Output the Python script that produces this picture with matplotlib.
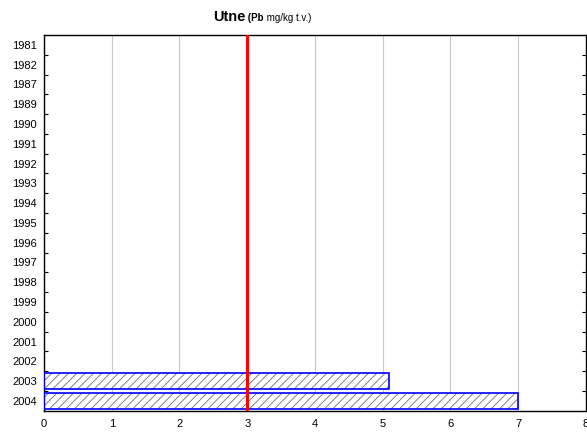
"""Horizontal bar chart: Pb concentration at Utne by year."""

import matplotlib

matplotlib.use("Agg")
import matplotlib.pyplot as plt
import numpy as np
from matplotlib.offsetbox import AnchoredOffsetbox, HPacker, TextArea

years = ["1981", "1982", "1987", "1989", "1990", "1991", "1992", "1993", "1994",
         "1995", "1996", "1997", "1998", "1999", "2000", "2001", "2002", "2003", "2004"]
values = [np.nan] * 17 + [5.1, 7.0]
limit_value = 3
x_ticks = [0, 1, 2, 3, 4, 5, 6, 7, 8]

plt.rcParams["font.family"] = ["Liberation Sans", "DejaVu Sans"]
plt.rcParams["hatch.linewidth"] = 0.6
plt.rcParams["hatch.color"] = "#707070"

fig = plt.figure(figsize=(5.87, 4.32), dpi=100)
ax = fig.add_axes([0.075, 0.049, 0.923, 0.870])

pos = np.arange(len(years))
vals = np.array(values, dtype=float)
has = ~np.isnan(vals)
# hatch in grey, then outline in blue on top
ax.barh(pos[has], vals[has], height=0.82, color="white", edgecolor="#707070",
        hatch="////", linewidth=0, zorder=2)
ax.barh(pos[has], vals[has], height=0.82, fill=False, edgecolor="#0000ff",
        linewidth=1.2, zorder=3)

ax.axvline(limit_value, color="#ff0000", linewidth=2.2, zorder=4)

ax.set_xlim(0, 8)
ax.set_ylim(len(years) - 0.5, -0.5)
ax.set_xticks(x_ticks)
ax.set_xticklabels([str(t) for t in x_ticks], fontsize=8)
ax.tick_params(axis="x", length=0, pad=6)
ax.grid(axis="x", color="#c8c8c8", linewidth=0.8, zorder=0)

ax.set_yticks(pos)
ax.set_yticklabels(years, fontsize=8)
ax.set_yticks(pos[:-1] + 0.5, minor=True)
ax.tick_params(axis="y", which="major", length=0, pad=5)
ax.tick_params(axis="y", which="minor", direction="in", length=3,
               left=True, right=True, width=0.8)
for s in ax.spines.values():
    s.set_linewidth(1.0)

title = HPacker(children=[
    TextArea("Utne", textprops=dict(fontsize=10.5, fontweight="bold")),
    TextArea(" (Pb", textprops=dict(fontsize=7, fontweight="bold")),
    TextArea(" mg/kg t.v.)", textprops=dict(fontsize=7)),
], align="baseline", pad=0, sep=0)
box = AnchoredOffsetbox(loc="lower left", child=title, pad=0, frameon=False,
                        bbox_to_anchor=(213, 432 - 24), bbox_transform=None,
                        borderpad=0)
fig.add_artist(box)

fig.savefig("out.png", dpi=100)
